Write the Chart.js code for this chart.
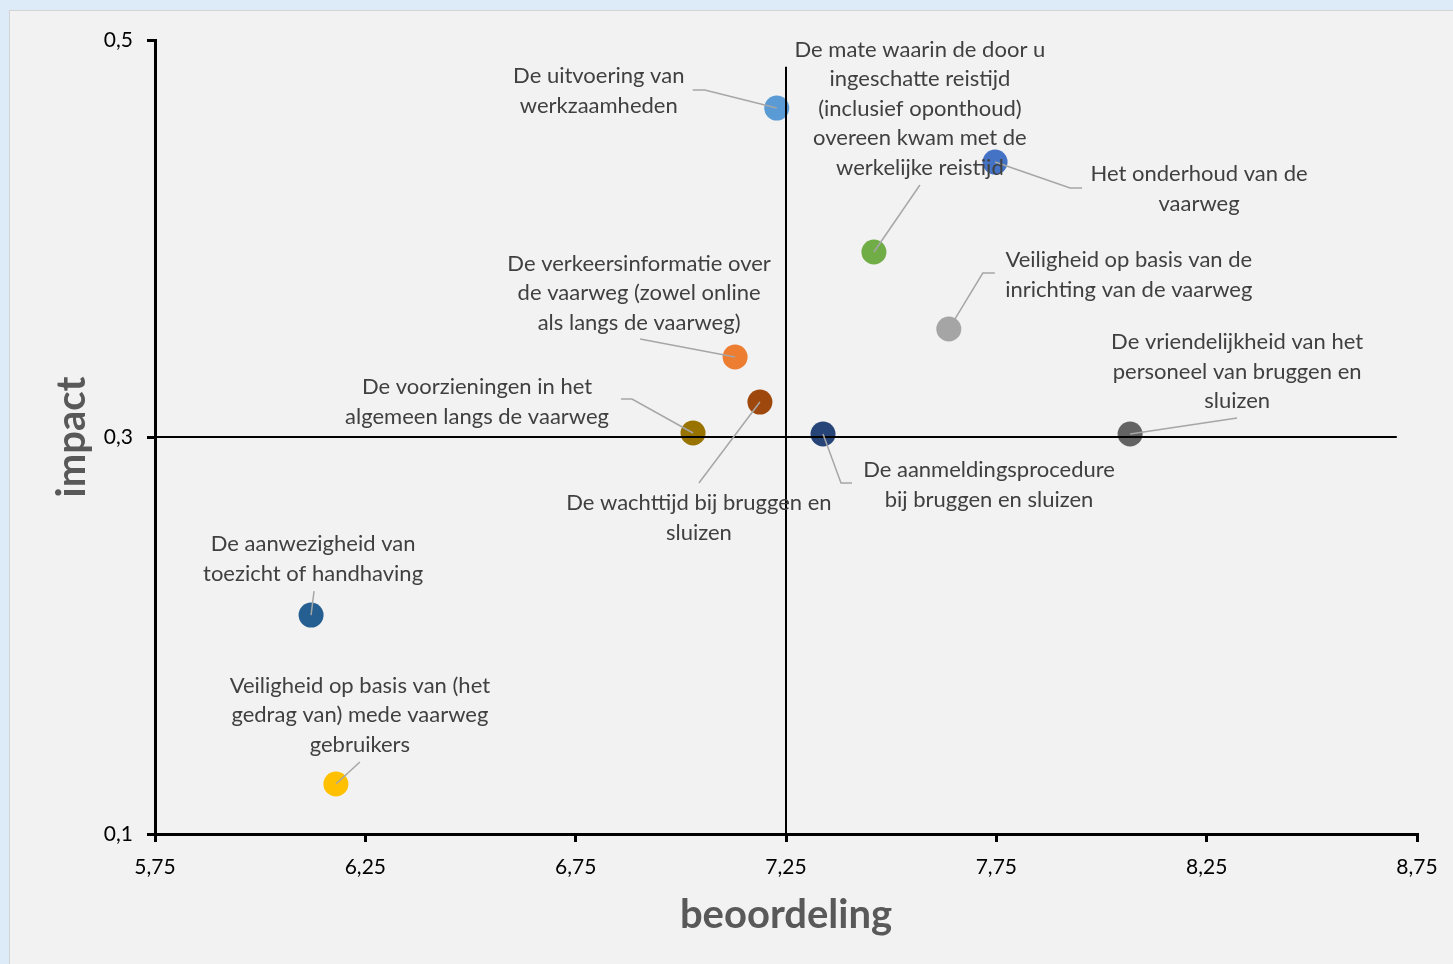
<!DOCTYPE html>
<html>
<head>
<meta charset="utf-8">
<script src="https://cdn.jsdelivr.net/npm/chart.js@4/dist/chart.umd.min.js"></script>
<style>
  html, body { margin: 0; padding: 0; }
  body { width: 1453px; height: 964px; background: #dcebf7; position: relative; overflow: hidden; }
  .panel { position: absolute; left: 9px; top: 10px; right: -2px; bottom: -2px; background: #f2f2f2; border: 1px solid #d4d4d4; }
  canvas { position: absolute; left: 0; top: 0; }
</style>
</head>
<body>
<div class="panel"></div>
<canvas id="chart" width="1453" height="964"></canvas>
<script>
// aspects of the waterway, with their score (beoordeling) and impact
const categories = [
  'De uitvoering van werkzaamheden',
  'De mate waarin de door u ingeschatte reistijd (inclusief oponthoud) overeen kwam met de werkelijke reistijd',
  'Het onderhoud van de vaarweg',
  'Veiligheid op basis van de inrichting van de vaarweg',
  'De verkeersinformatie over de vaarweg (zowel online als langs de vaarweg)',
  'De wachttijd bij bruggen en sluizen',
  'De voorzieningen in het algemeen langs de vaarweg',
  'De aanmeldingsprocedure bij bruggen en sluizen',
  'De vriendelijkheid van het personeel van bruggen en sluizen',
  'De aanwezigheid van toezicht of handhaving',
  'Veiligheid op basis van (het gedrag van) mede vaarweg gebruikers',
];
const beoordeling = [7.228, 7.459, 7.747, 7.637, 7.129, 7.188, 7.029, 7.338, 8.068, 6.121, 6.180];
const impact = [0.4657, 0.3932, 0.4385, 0.3544, 0.3403, 0.3176, 0.3020, 0.3015, 0.3015, 0.2103, 0.1252];

// quadrant lines
const crossX = [7.25, 7.25];
const crossXImpact = [0.1, 0.4865];
const crossYBeoordeling = [5.75, 8.702];
const crossY = [0.3, 0.3];

// axis ticks
const xTicks = { min: 5.75, max: 8.75, step: 0.5 };
const yTicks = { min: 0.1, max: 0.5, step: 0.2 };

const colors = ['#5b9bd5', '#70ad47', '#4472c4', '#a5a5a5', '#ed7d31', '#9e480e',
  '#997300', '#264478', '#636363', '#255e91', '#ffc000'];

// label text lines and placement (pixel offsets from the point)
const labelLayout = [
  { lines: ['De uitvoering van', 'werkzaamheden'], dx: -178, dy: -32, leader: [[-84, -18], [-72, -18], [0, 0]] },
  { lines: ['De mate waarin de door u', 'ingeschatte reistijd', '(inclusief oponthoud)', 'overeen kwam met de', 'werkelijke reistijd'], dx: 46, dy: -202, leader: [[46, -67], [0, 0]] },
  { lines: ['Het onderhoud van de', 'vaarweg'], dx: 204, dy: 12, leader: [[0, 0], [75, 26], [87, 26]] },
  { lines: ['Veiligheid op basis van de', 'inrichting van de vaarweg'], dx: 180, dy: -69, leader: [[46, -56], [34, -56], [0, 0]] },
  { lines: ['De verkeersinformatie over', 'de vaarweg (zowel online', 'als langs de vaarweg)'], dx: -96, dy: -93, leader: [[-95, -18], [0, 0]] },
  { lines: ['De wachttijd bij bruggen en', 'sluizen'], dx: -61, dy: 101, leader: [[-61, 81], [0, 0]] },
  { lines: ['De voorzieningen in het', 'algemeen langs de vaarweg'], dx: -216, dy: -46, leader: [[-72, -34], [-61, -34], [0, 0]] },
  { lines: ['De aanmeldingsprocedure', 'bij bruggen en sluizen'], dx: 166, dy: 36, leader: [[0, 0], [18, 49], [29, 49]] },
  { lines: ['De vriendelijkheid van het', 'personeel van bruggen en', 'sluizen'], dx: 107, dy: -92, leader: [[0, 0], [107, -16]] },
  { lines: ['De aanwezigheid van', 'toezicht of handhaving'], dx: 2, dy: -71, leader: [[3, -24], [0, 0]] },
  { lines: ['Veiligheid op basis van (het', 'gedrag van) mede vaarweg', 'gebruikers'], dx: 24, dy: -98, leader: [[24, -22], [0, 0]] },
];

const fontFamily = 'Lato, "Open Sans", sans-serif';

const pointLabels = {
  id: 'pointLabels',
  afterDatasetsDraw(chart) {
    const ctx = chart.ctx;
    const meta = chart.getDatasetMeta(2);
    ctx.save();
    // leader lines
    ctx.strokeStyle = '#a6a6a6';
    ctx.lineWidth = 1.5;
    meta.data.forEach((pt, i) => {
      const lay = labelLayout[i];
      ctx.beginPath();
      lay.leader.forEach(([ox, oy], j) => {
        if (j === 0) ctx.moveTo(pt.x + ox, pt.y + oy);
        else ctx.lineTo(pt.x + ox, pt.y + oy);
      });
      ctx.stroke();
    });
    // text
    ctx.fillStyle = '#404040';
    ctx.font = '22px ' + fontFamily;
    ctx.textAlign = 'center';
    ctx.textBaseline = 'middle';
    meta.data.forEach((pt, i) => {
      const lay = labelLayout[i];
      lay.lines.forEach((line, k) => {
        ctx.fillText(line, pt.x + lay.dx, pt.y + lay.dy + k * 29.4);
      });
    });
    ctx.restore();
  },
};

const fmt = (v) => String(+v.toFixed(2)).replace('.', ',');

const data = {
  datasets: [
    {
      type: 'line',
      data: crossX.map((x, i) => ({ x, y: crossXImpact[i] })),
      borderColor: '#000',
      borderWidth: 2,
      pointRadius: 0,
      fill: false,
      order: 0,
    },
    {
      type: 'line',
      data: crossYBeoordeling.map((x, i) => ({ x, y: crossY[i] })),
      borderColor: '#000',
      borderWidth: 2,
      pointRadius: 0,
      fill: false,
      order: 0,
    },
    {
      type: 'scatter',
      label: 'aspecten',
      data: categories.map((c, i) => ({ x: beoordeling[i], y: impact[i] })),
      backgroundColor: colors,
      borderWidth: 0,
      pointRadius: 12.5,
      order: 1,
    },
  ],
};

const options = {
  responsive: false,
  animation: false,
  events: [],
  layout: { padding: { top: 40, right: 36, left: 0, bottom: 0 } },
  scales: {
    x: {
      type: 'linear',
      min: xTicks.min,
      max: xTicks.max,
      afterFit: (s) => { s.height = 130; },
      ticks: { stepSize: xTicks.step, callback: fmt, color: '#000', font: { family: fontFamily, size: 21 }, padding: 13, maxRotation: 0 },
      grid: { drawOnChartArea: false, drawTicks: true, tickLength: 8, color: '#000', lineWidth: 3 },
      border: { display: true, color: '#000', width: 3 },
      title: { display: true, text: 'beoordeling', color: '#595959', font: { family: fontFamily, size: 40, weight: 'bold' }, padding: { top: 0, bottom: 25 } },
    },
    y: {
      type: 'linear',
      min: yTicks.min,
      max: yTicks.max,
      afterFit: (s) => { s.width = 155; },
      ticks: { stepSize: yTicks.step, callback: fmt, color: '#000', font: { family: fontFamily, size: 21 }, padding: 14 },
      grid: { drawOnChartArea: false, drawTicks: true, tickLength: 8, color: '#000', lineWidth: 3 },
      border: { display: true, color: '#000', width: 3 },
      title: { display: true, text: 'impact', color: '#595959', font: { family: fontFamily, size: 40, weight: 'bold' }, padding: { top: 48, bottom: 0 } },
    },
  },
  plugins: {
    legend: { display: false },
    tooltip: { enabled: false },
  },
};

new Chart(document.getElementById('chart'), {
  type: 'scatter',
  data,
  options,
  plugins: [pointLabels],
});
</script>
</body>
</html>
